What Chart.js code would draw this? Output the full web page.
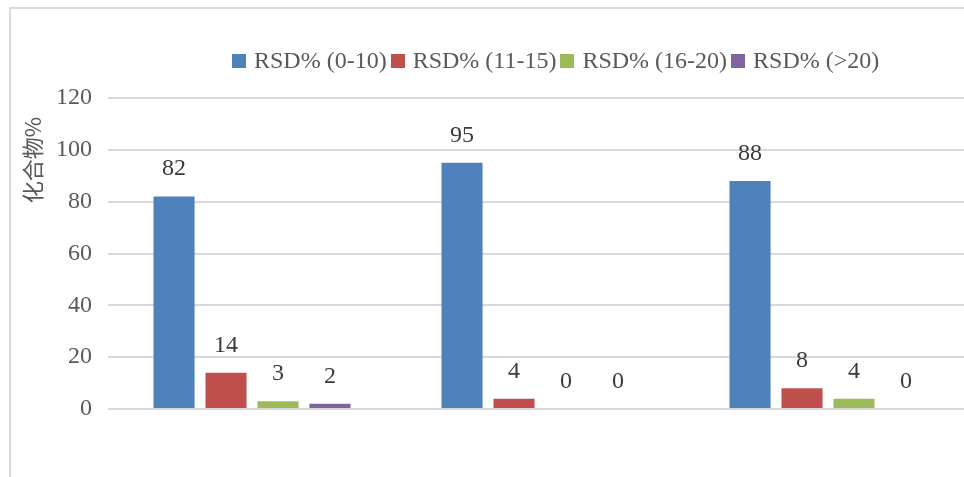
<!DOCTYPE html>
<html>
<head>
<meta charset="utf-8">
<script src="https://cdn.jsdelivr.net/npm/chart.js@4"></script>
<style>
  html, body { margin: 0; padding: 0; background: #fff; overflow: hidden; width: 964px; height: 477px; }
  #wrap { position: relative; width: 964px; height: 477px; overflow: hidden; }
  #frame { position: absolute; left: 9px; top: 7px; right: 0; bottom: 0; border-left: 2px solid #d9d9d9; border-top: 2px solid #d9d9d9; }
  #myChart { position: absolute; left: 0; top: 0; }
  #legend { position: absolute; left: 232px; top: 47px; display: flex; align-items: center; white-space: nowrap;
            font-family: "Liberation Serif", "Times New Roman", serif; font-size: 24px; color: #595959; }
  #legend .item { display: flex; align-items: center; margin-right: 4px; }
  #legend .box { width: 14px; height: 14px; margin-right: 8px; }
</style>
</head>
<body>
<div id="wrap">
  <div id="frame"></div>
  <canvas id="myChart" width="972" height="477"></canvas>
  <div id="legend"></div>
</div>
<script>
const categories = ['', '', '']
const seriesNames = ['RSD% (0-10)', 'RSD% (11-15)', 'RSD% (16-20)', 'RSD% (>20)']
const rsd0to10 = [82, 95, 88]
const rsd11to15 = [14, 4, 8]
const rsd16to20 = [3, 0, 4]
const rsdOver20 = [2, 0, 0]
const yTicks = [0, 20, 40, 60, 80, 100, 120]
const yTitle = '化合物%'

const colors = ['#4f81bd', '#c0504d', '#9bbb59', '#8064a2']
const serif = '"Liberation Serif", "Times New Roman", serif'

// value labels above each bar
const barLabels = {
    id: 'barLabels',
    afterDatasetsDraw(chart) {
        const ctx = chart.ctx
        ctx.save()
        ctx.font = '24px ' + serif
        ctx.fillStyle = '#3a3a3a'
        ctx.textAlign = 'center'
        ctx.textBaseline = 'alphabetic'
        chart.data.datasets.forEach((ds, i) => {
            chart.getDatasetMeta(i).data.forEach((bar, j) => {
                ctx.fillText(String(ds.data[j]), bar.x, bar.y - 21)
            })
        })
        ctx.restore()
    }
}

// rotated y title, placed like the original (upper part of the axis)
const yTitlePlugin = {
    id: 'yTitle',
    afterDraw(chart) {
        const ctx = chart.ctx
        ctx.save()
        ctx.translate(33, 160)
        ctx.rotate(-Math.PI / 2)
        ctx.font = '22px "Noto Sans CJK SC", sans-serif'
        ctx.fillStyle = '#595959'
        ctx.textAlign = 'center'
        ctx.textBaseline = 'middle'
        ctx.fillText(yTitle, 0, 0)
        ctx.restore()
    }
}

let myChart = new Chart(document.getElementById('myChart').getContext('2d'), {
    type: 'bar',
    data: {
        labels: categories,
        datasets: [rsd0to10, rsd11to15, rsd16to20, rsdOver20].map((d, i) => ({
            label: seriesNames[i],
            data: d,
            backgroundColor: colors[i],
            borderWidth: 0,
            categoryPercentage: 0.722,
            barPercentage: 0.79,
        }))
    },
    options: {
        responsive: false,
        animation: false,
        layout: { padding: { top: 98, bottom: 68, left: 0, right: 0 } },
        scales: {
            x: { display: false },
            y: {
                min: 0,
                max: 120,
                afterBuildTicks(scale) { scale.ticks = yTicks.map(v => ({ value: v })) },
                afterFit(scale) { scale.width = 108 },
                border: { display: false },
                grid: { color: '#d9d9d9', lineWidth: 2, drawTicks: false },
                ticks: { padding: 16, color: '#595959', font: { family: serif, size: 24 } }
            }
        },
        plugins: {
            legend: { display: false },
            tooltip: { enabled: false }
        }
    },
    plugins: [barLabels, yTitlePlugin]
})

// legend as html, positioned like the original
const legendEl = document.getElementById('legend')
seriesNames.forEach((name, i) => {
    const item = document.createElement('div')
    item.className = 'item'
    const box = document.createElement('span')
    box.className = 'box'
    box.style.background = colors[i]
    const txt = document.createElement('span')
    txt.textContent = name
    item.appendChild(box)
    item.appendChild(txt)
    legendEl.appendChild(item)
})
</script>
</body>
</html>
